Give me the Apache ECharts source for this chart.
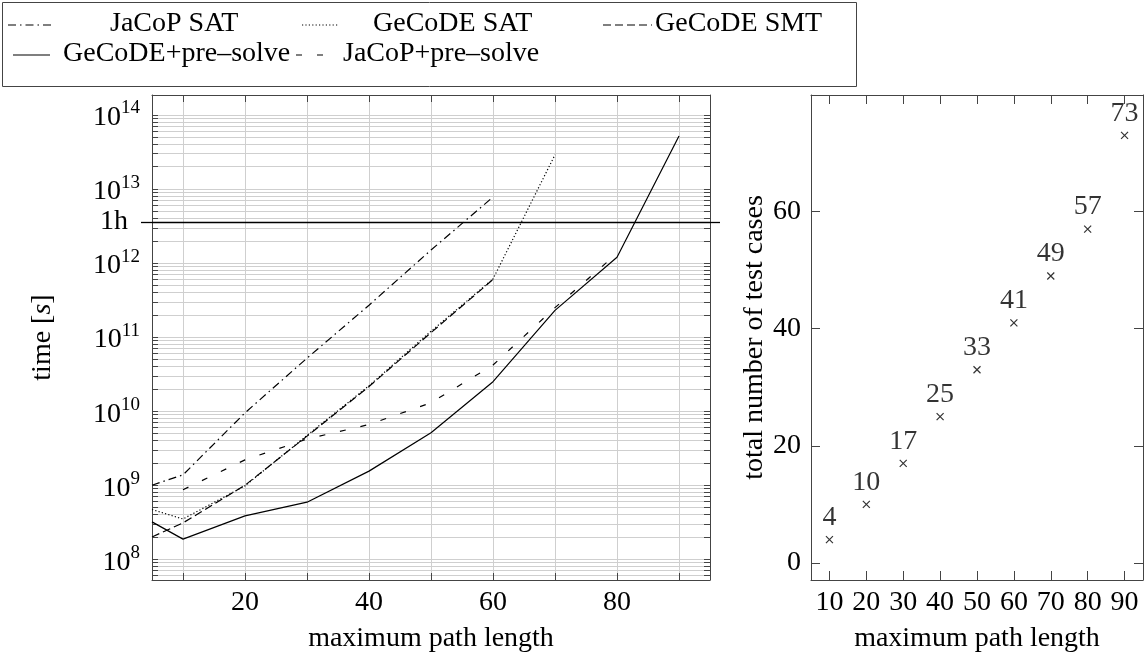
<!DOCTYPE html>
<html>
<head>
<meta charset="utf-8">
<script src="https://cdn.jsdelivr.net/npm/echarts@6/dist/echarts.min.js"></script>
<style>
html, body { margin: 0; padding: 0; background: #fff; }
#chart { width: 1147px; height: 659px; }
</style>
</head>
<body>
<div id="chart"></div>
<script>
// --- values --- //
const pathLengths = [5, 10, 20, 30, 40, 50, 60, 70, 80, 90];
const jacopSat    = [1.0e9, 1.38e9, 9.5e9, 5.2e10, 2.7e11, 1.5e12, 7.8e12, null, null, null];
const gecodeSat   = [4.7e8, 3.5e8, 9.8e8, 4.7e9, 2.2e10, 1.2e11, 6.1e11, 2.9e13, null, null];
const gecodeSmt   = [2.0e8, 3.1e8, 1.0e9, 4.6e9, 2.15e10, 1.15e11, 6.0e11, null, null, null];
const gecodePre   = [3.2e8, 1.87e8, 3.85e8, 5.9e8, 1.55e9, 5.1e9, 2.5e10, 2.3e11, 1.2e12, 5.2e13];
const jacopPre    = [null, 8.7e8, 2.2e9, 4.2e9, 6.6e9, 1.3e10, 4.2e10, 2.5e11, 1.35e12, null];

const caseLengths = [10, 20, 30, 40, 50, 60, 70, 80, 90];
const caseCounts  = [4, 10, 17, 25, 33, 41, 49, 57, 73];

// --- ticks --- //
const xTicks = [10, 20, 30, 40, 50, 60, 70, 80, 90];
const leftXLabels = [20, 40, 60, 80];
const decadeTicks = [1e8, 1e9, 1e10, 1e11, 1e12, 1e13, 1e14];
const oneHour = 3.6e12;
const rightYTicks = [0, 20, 40, 60];

const yMin = Math.pow(10, 7.72);
const yMax = Math.pow(10, 14.27);

// minor grid lines 2..9 x 10^n
const gridValues = [];
for (let e = 7; e <= 14; e++) {
  for (let m = 1; m <= 9; m++) {
    const v = m * Math.pow(10, e);
    if (v >= yMin && v <= yMax) gridValues.push(v);
  }
}

const FONT = 'Liberation Serif';
const AXIS_COLOR = '#444';
const GRID_COLOR = '#cfcfcf';
const textStyle = { fontFamily: FONT, fontSize: 28, color: '#000' };

const lineDefs = [
  { name: 'JaCoP SAT', values: jacopSat, dash: [8, 4, 1.5, 4] },
  { name: 'GeCoDE SAT', values: gecodeSat, dash: [1.2, 2.2] },
  { name: 'GeCoDE SMT', values: gecodeSmt, dash: [8, 4] },
  { name: 'GeCoDE+pre–solve', values: gecodePre, dash: 'solid' },
  { name: 'JaCoP+pre–solve', values: jacopPre, dash: [6, 15] }
];

// legend layout (box drawn like pgfplots)
const legendPos = [
  { x1: 8, x2: 53, y: 24, tx: 110 },
  { x1: 302, x2: 338, y: 24, tx: 373 },
  { x1: 603, x2: 652, y: 24, tx: 655 },
  { x1: 13, x2: 50, y: 54, tx: 63 },
  { x1: 296, x2: 336, y: 54, tx: 343 }
];

function pairs(xs, ys) {
  const out = [];
  xs.forEach((x, i) => { if (ys[i] != null) out.push([x, ys[i]]); });
  return out;
}

const series = lineDefs.map(d => ({
  name: d.name,
  type: 'line',
  xAxisIndex: 0,
  yAxisIndex: 0,
  symbol: 'none',
  lineStyle: { color: '#000', width: 1.2, type: d.dash },
  data: pairs(pathLengths, d.values),
  z: 3
}));

series[0].markLine = {
  silent: true,
  symbol: 'none',
  label: { show: false },
  lineStyle: { color: '#000', type: 'solid', width: 1.3 },
  data: [{ yAxis: oneHour }]
};

series.push({
  type: 'scatter',
  xAxisIndex: 2,
  yAxisIndex: 4,
  symbol: 'path://M0,0L10,10M10,0L0,10',
  symbolSize: 7,
  itemStyle: { color: 'none', borderColor: '#000', borderWidth: 1.2 },
  label: {
    show: true,
    position: 'top',
    distance: 2,
    formatter: p => String(p.value[1]),
    ...textStyle
  },
  data: pairs(caseLengths, caseCounts)
});

const graphic = [{
  type: 'rect',
  shape: { x: 2.5, y: 2.5, width: 854, height: 84 },
  style: { fill: '#fff', stroke: AXIS_COLOR, lineWidth: 1 }
}];
lineDefs.forEach((d, i) => {
  const p = legendPos[i];
  graphic.push({
    type: 'line',
    shape: { x1: p.x1, y1: p.y + 1, x2: p.x2, y2: p.y + 1 },
    style: { stroke: '#000', lineWidth: 1.2, lineDash: d.dash === 'solid' ? null : d.dash }
  });
  graphic.push({
    type: 'text',
    x: p.tx,
    y: p.y,
    style: { text: d.name, fontFamily: FONT, fontSize: 28, fill: '#000', verticalAlign: 'middle' }
  });
});

const frameLine = { show: true, onZero: false, lineStyle: { color: AXIS_COLOR, width: 1 } };
const tickLine = { color: AXIS_COLOR, width: 1 };

const option = {
  animation: false,
  backgroundColor: '#fff',
  grid: [
    { left: 152, top: 95, width: 558, height: 485 },
    { left: 811, top: 95, width: 332, height: 485 }
  ],
  xAxis: [
    {
      gridIndex: 0, type: 'value', min: 5, max: 95, position: 'bottom',
      axisLine: frameLine,
      axisTick: { inside: true, length: 7, customValues: xTicks, lineStyle: tickLine },
      axisLabel: { customValues: leftXLabels, margin: 9, ...textStyle },
      splitLine: { show: true, lineStyle: { color: GRID_COLOR, width: 1 } },
      name: 'maximum path length', nameLocation: 'middle', nameGap: 45,
      nameTextStyle: textStyle
    },
    {
      gridIndex: 0, type: 'value', min: 5, max: 95, position: 'top',
      axisLine: frameLine,
      axisTick: { inside: true, length: 7, customValues: xTicks, lineStyle: tickLine },
      axisLabel: { show: false },
      splitLine: { show: false }
    },
    {
      gridIndex: 1, type: 'value', min: 5, max: 95, position: 'bottom',
      axisLine: frameLine,
      axisTick: { inside: true, length: 9, customValues: xTicks, lineStyle: tickLine },
      axisLabel: { customValues: xTicks, margin: 9, ...textStyle },
      splitLine: { show: false },
      name: 'maximum path length', nameLocation: 'middle', nameGap: 45,
      nameTextStyle: textStyle
    },
    {
      gridIndex: 1, type: 'value', min: 5, max: 95, position: 'top',
      axisLine: frameLine,
      axisTick: { inside: true, length: 9, customValues: xTicks, lineStyle: tickLine },
      axisLabel: { show: false },
      splitLine: { show: false }
    }
  ],
  yAxis: [
    {
      gridIndex: 0, type: 'log', min: yMin, max: yMax, position: 'left',
      axisLine: frameLine,
      axisTick: { inside: true, length: 6, customValues: gridValues, lineStyle: tickLine },
      axisLabel: {
        customValues: decadeTicks,
        margin: 12,
        formatter: v => '{b|10}{e|' + Math.round(Math.log10(v)) + '}',
        rich: {
          b: { fontFamily: FONT, fontSize: 28, color: '#000', padding: [6, 0, 0, 0] },
          e: { fontFamily: FONT, fontSize: 19, color: '#000', padding: [0, 0, 13, 0] }
        }
      },
      splitLine: { show: true, lineStyle: { color: GRID_COLOR, width: 1 } },
      name: '{a|time [}{i|s}{a|]}', nameLocation: 'middle', nameGap: 95,
      nameTextStyle: {
        rich: {
          a: { fontFamily: FONT, fontSize: 28, color: '#000' },
          i: { fontFamily: FONT, fontSize: 28, color: '#000', fontStyle: 'italic' }
        }
      }
    },
    {
      gridIndex: 0, type: 'log', min: yMin, max: yMax, position: 'right',
      axisLine: frameLine,
      axisTick: { inside: true, length: 6, customValues: gridValues, lineStyle: tickLine },
      axisLabel: { show: false },
      splitLine: { show: false }
    },
    {
      gridIndex: 0, type: 'log', min: yMin, max: yMax, position: 'left',
      axisLine: { show: false },
      axisTick: { inside: false, length: 11, customValues: [oneHour], lineStyle: { color: '#000', width: 1.3 } },
      axisLabel: { customValues: [oneHour], margin: 24, formatter: () => '1h', ...textStyle },
      splitLine: { show: false }
    },
    {
      gridIndex: 0, type: 'log', min: yMin, max: yMax, position: 'right',
      axisLine: { show: false },
      axisTick: { inside: false, length: 10, customValues: [oneHour], lineStyle: { color: '#000', width: 1.3 } },
      axisLabel: { show: false },
      splitLine: { show: false }
    },
    {
      gridIndex: 1, type: 'value', min: -2.9, max: 79.9, position: 'left',
      axisLine: frameLine,
      axisTick: { inside: true, length: 9, customValues: rightYTicks, lineStyle: tickLine },
      axisLabel: { customValues: rightYTicks, margin: 10, ...textStyle },
      splitLine: { show: false },
      name: 'total number of test cases', nameLocation: 'middle', nameGap: 40,
      nameTextStyle: textStyle
    },
    {
      gridIndex: 1, type: 'value', min: -2.9, max: 79.9, position: 'right',
      axisLine: frameLine,
      axisTick: { inside: true, length: 9, customValues: rightYTicks, lineStyle: tickLine },
      axisLabel: { show: false },
      splitLine: { show: false }
    }
  ],
  series: series,
  graphic: graphic
};

const chart = echarts.init(document.getElementById('chart'));
chart.setOption(option);
</script>
</body>
</html>
